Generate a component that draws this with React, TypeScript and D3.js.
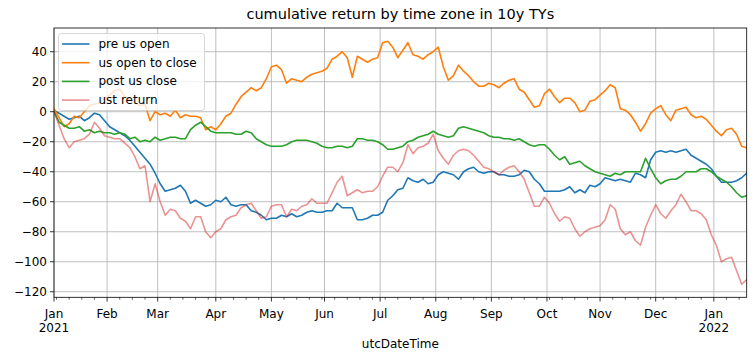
import React from 'react';
import * as d3 from 'd3';

// Business-day sampled series (every 2nd business day, starting 2021-01-01)
const START = new Date(2021, 0, 1);
const END = new Date(2022, 0, 20);
const SAMPLE_STEP = 2;

const preUsOpen = [
  1, -1, -3, -5, -4, -3, -6, -4, -1, -2, -6, -10, -12, -14, -16, -19, -23, -27, -31, -35,
  -41, -48, -53, -52, -51, -49, -53, -61, -59, -61, -63, -62, -59, -60, -57, -62, -63, -62, -62, -66,
  -67, -69, -72, -71, -71, -69, -70, -68, -70, -69, -67, -66, -67, -67, -66, -66, -61, -64, -64, -64,
  -72, -72, -71, -69, -69, -67, -59, -56, -52, -51, -44, -46, -47, -45, -48, -47, -42, -40, -41, -42,
  -45, -40, -38, -37, -40, -41, -40, -40, -42, -42, -43, -43, -42, -39, -40, -45, -48, -53, -53, -53,
  -53, -52, -50, -54, -52, -54, -49, -50, -48, -44, -45, -46, -45, -46, -47, -41, -42, -44, -32, -27,
  -26, -27, -26, -27, -26, -25, -29, -31, -33, -35, -38, -43, -47, -47, -47, -46, -44, -41,
];
const usOpenToClose = [
  2, -4, -10, -8, -3, -4, 0, 4, 5, 6, 9, 11, 14, 15, 10, 8, 6, 4, 5, -6,
  0, -2, -1, -3, 1, -4, -2, -3, -3, -4, -12, -10, -12, -8, -3, -1, 5, 10, 13, 16,
  14, 16, 22, 30, 31, 28, 19, 22, 21, 20, 23, 25, 26, 27, 29, 35, 37, 40, 36, 23,
  37, 35, 33, 35, 36, 46, 47, 43, 36, 41, 46, 38, 37, 35, 38, 40, 43, 30, 21, 24,
  31, 27, 24, 20, 17, 17, 19, 18, 16, 19, 21, 22, 15, 13, 8, 3, 4, 12, 15, 10,
  6, 9, 9, 6, 0, 1, 7, 8, 11, 14, 18, 16, 2, 1, -2, -7, -13, -8, -1, 2,
  4, -2, -6, 1, 2, 3, -2, -4, -3, -5, -9, -13, -16, -12, -11, -15, -23, -24,
];
const postUsClose = [
  0, -7, -9, -11, -11, -10, -13, -12, -14, -13, -14, -14, -15, -14, -15, -18, -17, -20, -19, -20,
  -17, -19, -18, -17, -17, -18, -18, -12, -9, -7, -10, -13, -14, -14, -14, -14, -15, -15, -13, -14,
  -18, -20, -22, -23, -23, -23, -22, -20, -19, -19, -19, -20, -21, -23, -24, -24, -23, -23, -24, -23,
  -18, -18, -19, -19, -20, -22, -25, -25, -24, -23, -20, -19, -17, -16, -15, -13, -15, -16, -17, -16,
  -11, -10, -11, -12, -13, -14, -16, -17, -17, -18, -18, -19, -18, -20, -22, -23, -22, -22, -25, -29,
  -32, -30, -35, -34, -33, -36, -38, -40, -41, -42, -43, -41, -42, -40, -40, -40, -40, -31, -38, -44,
  -48, -46, -45, -45, -43, -40, -40, -40, -38, -38, -40, -43, -45, -47, -50, -54, -57, -56,
];
const ustReturn = [
  0, -9, -18, -24, -20, -19, -18, -15, -7, -11, -16, -17, -18, -18, -21, -24, -30, -38, -36, -60,
  -48, -60, -69, -65, -66, -71, -73, -78, -70, -70, -80, -84, -80, -78, -72, -70, -69, -64, -62, -61,
  -66, -71, -70, -63, -62, -62, -70, -65, -66, -63, -62, -58, -61, -61, -61, -54, -47, -43, -56, -54,
  -52, -54, -53, -53, -50, -43, -37, -37, -40, -34, -22, -28, -24, -23, -21, -15, -26, -31, -35, -29,
  -26, -25, -26, -29, -33, -37, -38, -40, -42, -39, -37, -36, -40, -45, -54, -63, -63, -57, -61, -68,
  -73, -70, -71, -78, -83, -80, -78, -77, -76, -72, -62, -65, -78, -82, -80, -86, -89, -77, -69, -62,
  -68, -71, -66, -62, -55, -60, -66, -66, -68, -72, -82, -89, -100, -98, -97, -106, -115, -112,
];

const seriesNames = ['pre us open', 'us open to close', 'post us close', 'ust return'];
const seriesValues = [preUsOpen, usOpenToClose, postUsClose, ustReturn];
const seriesColors = ['#1f77b4', '#ff7f0e', '#2ca02c', '#d62728'];
const seriesOpacity = [1, 1, 1, 0.5];

const yTicks = [40, 20, 0, -20, -40, -60, -80, -100, -120];
const yDomain = [-123.7, 55.8];

const TITLE = 'cumulative return by time zone in 10y TYs';
const X_LABEL = 'utcDateTime';

const W = 755;
const H = 362;
const M = { left: 54, top: 28, right: 8.3, bottom: 64.7 };
const FONT = 'DejaVu Sans, sans-serif';

export default function App() {
  const bdays = d3.timeDay
    .range(START, d3.timeDay.offset(END, 1))
    .filter((d) => d.getDay() !== 0 && d.getDay() !== 6);
  const n = bdays.length - 1;

  const x = d3.scaleLinear().domain([0, n]).range([M.left, W - M.right]);
  const y = d3.scaleLinear().domain(yDomain).range([H - M.bottom, M.top]);

  const monthStarts: number[] = [];
  const minorTicks: number[] = [];
  bdays.forEach((d, i) => {
    const isMonth = i === 0 || d.getMonth() !== bdays[i - 1].getMonth();
    if (isMonth) monthStarts.push(i);
    else if (d.getDay() === 1) minorTicks.push(i);
  });
  const fmtMonth = d3.timeFormat('%b');
  const fmtYear = d3.timeFormat('%Y');

  const line = d3
    .line<number>()
    .x((_, k) => x(k * SAMPLE_STEP))
    .y((v) => y(v));

  const x0 = M.left;
  const x1 = W - M.right;
  const y0 = H - M.bottom;
  const y1 = M.top;

  const legend = { x: 58.5, y: 33.5, w: 146, h: 77, row: 18.7, first: 44 };

  return (
    <svg
      width={W}
      height={H}
      style={{ position: 'absolute', left: 0, top: 0, background: '#fff' }}
      fontFamily={FONT}
    >
      <rect x={0} y={0} width={W} height={H} fill="#fff" />
      {/* grid */}
      <g stroke="#b0b0b0" strokeWidth={0.8}>
        {monthStarts.map((i) => (
          <line key={'gx' + i} x1={x(i)} x2={x(i)} y1={y1} y2={y0} />
        ))}
        {yTicks.map((t) => (
          <line key={'gy' + t} x1={x0} x2={x1} y1={y(t)} y2={y(t)} />
        ))}
      </g>
      {/* series */}
      <defs>
        <clipPath id="plotclip">
          <rect x={x0} y={y1} width={x1 - x0} height={y0 - y1} />
        </clipPath>
      </defs>
      <g clipPath="url(#plotclip)" fill="none" strokeLinejoin="round" strokeLinecap="square">
        {seriesValues.map((vals, s) => (
          <path
            key={seriesNames[s]}
            d={line(vals) || ''}
            stroke={seriesColors[s]}
            strokeOpacity={seriesOpacity[s]}
            strokeWidth={1.6}
          />
        ))}
      </g>
      {/* spines */}
      <rect x={x0} y={y1} width={x1 - x0} height={y0 - y1} fill="none" stroke="#000" strokeWidth={0.8} />
      {/* y ticks */}
      <g fontSize={12} fill="#000">
        {yTicks.map((t) => (
          <g key={'yt' + t}>
            <line x1={x0 - 4} x2={x0} y1={y(t)} y2={y(t)} stroke="#000" strokeWidth={0.8} />
            <text x={x0 - 7} y={y(t)} textAnchor="end" dominantBaseline="central">
              {t < 0 ? '\u2212' + Math.abs(t) : String(t)}
            </text>
          </g>
        ))}
      </g>
      {/* x ticks */}
      <g fontSize={12} fill="#000">
        {minorTicks.map((i) => (
          <line key={'mt' + i} x1={x(i)} x2={x(i)} y1={y0} y2={y0 + 2.4} stroke="#000" strokeWidth={0.6} />
        ))}
        {monthStarts.map((i) => {
          const d = bdays[i];
          const showYear = d.getMonth() === 0;
          return (
            <g key={'xt' + i}>
              <line x1={x(i)} x2={x(i)} y1={y0} y2={y0 + 4.2} stroke="#000" strokeWidth={0.8} />
              <text x={x(i)} y={317.5} textAnchor="middle">
                {fmtMonth(d)}
              </text>
              {showYear && (
                <text x={x(i)} y={331.5} textAnchor="middle">
                  {fmtYear(d)}
                </text>
              )}
            </g>
          );
        })}
      </g>
      {/* labels */}
      <text x={(x0 + x1) / 2} y={347.5} textAnchor="middle" fontSize={12} fill="#000">
        {X_LABEL}
      </text>
      <text x={(x0 + x1) / 2} y={19} textAnchor="middle" fontSize={14.5} fill="#000">
        {TITLE}
      </text>
      {/* legend */}
      <g>
        <rect
          x={legend.x}
          y={legend.y}
          width={legend.w}
          height={legend.h}
          rx={3}
          fill="#fff"
          fillOpacity={0.8}
          stroke="#cccccc"
          strokeWidth={0.8}
        />
        {seriesNames.map((name, s) => {
          const ly = legend.first + s * legend.row;
          return (
            <g key={'lg' + s}>
              <line
                x1={62}
                x2={89.5}
                y1={ly}
                y2={ly}
                stroke={seriesColors[s]}
                strokeOpacity={seriesOpacity[s]}
                strokeWidth={1.6}
              />
              <text x={98.5} y={ly} dominantBaseline="central" fontSize={12} fill="#000">
                {name}
              </text>
            </g>
          );
        })}
      </g>
    </svg>
  );
}
